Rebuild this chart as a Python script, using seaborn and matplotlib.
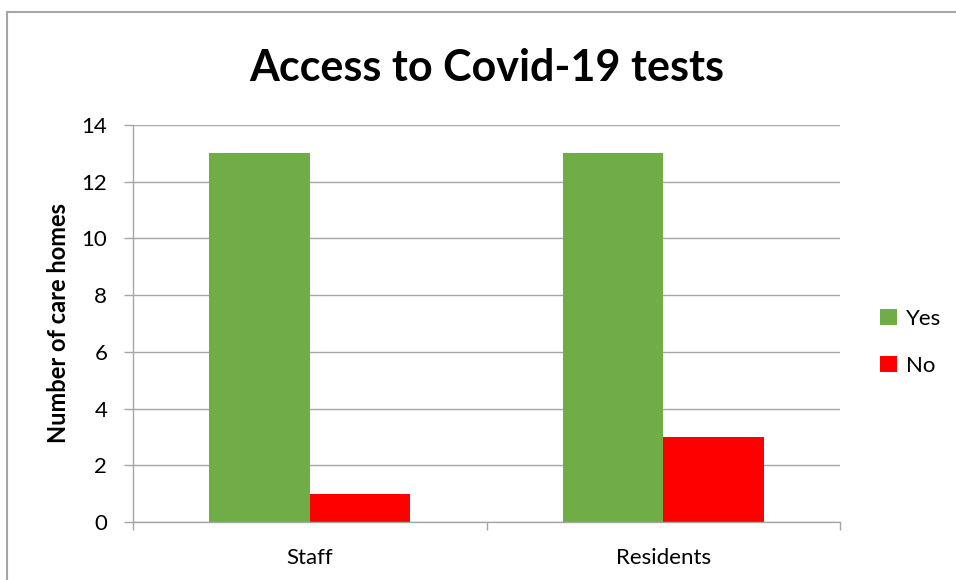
import pandas as pd
import matplotlib.pyplot as plt
import seaborn as sns
from matplotlib.lines import Line2D

# Chart data
groups = ['Staff', 'Residents']
answers = ['Yes', 'No']
yes_counts = [13, 13]
no_counts = [1, 3]

data = pd.DataFrame({
    'group': groups * 2,
    'answer': ['Yes'] * 2 + ['No'] * 2,
    'count': yes_counts + no_counts,
})

sns.set_style('white')
plt.rcParams['font.family'] = ['Lato', 'DejaVu Sans']
plt.rcParams['text.color'] = 'black'
plt.rcParams['axes.labelcolor'] = 'black'
plt.rcParams['xtick.color'] = 'black'
plt.rcParams['ytick.color'] = 'black'

fig = plt.figure(figsize=(9.56, 5.8), dpi=100)
ax = fig.add_axes([0.1391, 0.1, 0.7396, 0.6845])

sns.barplot(data=data, x='group', y='count', hue='answer', hue_order=answers,
            palette={'Yes': '#70AD47', 'No': '#FF0000'}, width=0.57,
            saturation=1, linewidth=0, ax=ax)

# Axes styling
ax.set_ylim(0, 14)
ax.set_yticks(range(0, 15, 2))
ax.set_xlim(-0.5, 1.5)
ax.grid(axis='y', color='#A6A6A6', linewidth=1)
ax.set_axisbelow(True)
for side in ['top', 'right']:
    ax.spines[side].set_visible(False)
for side in ['left', 'bottom']:
    ax.spines[side].set_color('#A6A6A6')
    ax.spines[side].set_linewidth(1)

ax.tick_params(axis='y', length=6.5, color='#A6A6A6', width=1, labelsize=16, pad=12,
               left=True, labelcolor='black')
ax.set_xticks([-0.5, 0.5, 1.5], minor=True)
ax.tick_params(axis='x', which='minor', length=6, color='#A6A6A6', width=1, bottom=True)
ax.tick_params(axis='x', which='major', length=0, labelsize=16, pad=19, labelcolor='black')

ax.set_xlabel('')
ax.set_ylabel('Number of care homes', fontsize=17, fontweight='bold', labelpad=8)

ax.set_title('Access to Covid-19 tests', fontsize=31, fontweight='bold', pad=32)

# Legend on the right
handles, labels = ax.get_legend_handles_labels()
ax.legend(handles, labels, loc='center left', bbox_to_anchor=(0.9, 0.41),
          bbox_transform=fig.transFigure, frameon=False, fontsize=16,
          handlelength=0.75, handleheight=0.75, handletextpad=0.4, labelspacing=1.2)

# Chart frame (top and left edges)
fig.add_artist(Line2D([0.0068, 1.0], [0.979, 0.979], color='#A6A6A6', linewidth=1.5,
                      transform=fig.transFigure))
fig.add_artist(Line2D([0.0068, 0.0068], [0.0, 0.979], color='#A6A6A6', linewidth=1.5,
                      transform=fig.transFigure))

fig.savefig('out.png', dpi=100)
